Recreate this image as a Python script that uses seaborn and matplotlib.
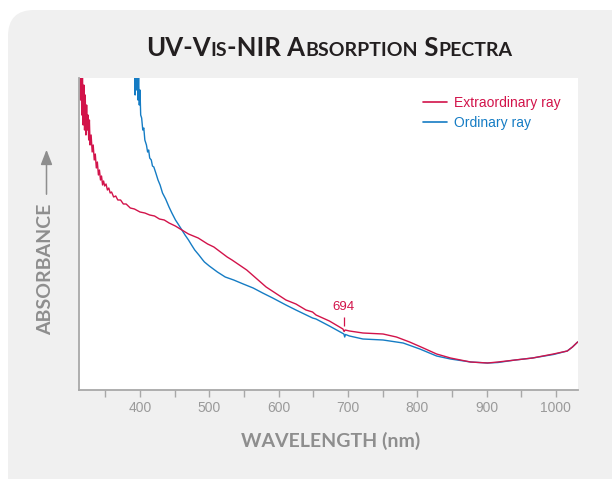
import matplotlib
matplotlib.use("Agg")
import matplotlib.pyplot as plt
from matplotlib.transforms import IdentityTransform
from matplotlib.patches import FancyBboxPatch, FancyArrowPatch
from matplotlib.lines import Line2D
import seaborn as sns
import pandas as pd

# ---------------- data ----------------
RED_NM = [313, 314, 315, 316, 317, 318, 319, 320, 321, 322, 323, 324, 325, 326, 327, 328,
          329.5, 331, 332.5, 334, 335.5, 337, 338.5, 340, 341.5, 343, 344.5, 346, 347.5, 349,
          351, 353, 355, 357, 359, 362, 365, 368, 372, 376, 380, 386, 392, 400, 407, 414,
          421, 428, 435, 442, 451, 460.5, 470, 484, 497.6, 506.6, 525.8, 532.8, 554, 582,
          610.6, 625, 639.5, 649, 654, 673.3, 692.8, 694.5, 696, 702.3, 721.7, 750.7, 770,
          789, 808.8, 828, 848, 877, 901.5, 916.5, 941.5, 966.5, 996.5, 1016.5, 1024, 1031.5]
RED_ABS = [3.4, 2.9, 3.3, 2.75, 3.2, 2.65, 3.05, 2.6, 2.95, 2.55, 2.85, 2.6, 2.75, 2.5, 2.7, 2.45,
           2.55, 2.38, 2.45, 2.3, 2.36, 2.22, 2.28, 2.15, 2.2, 2.1, 2.14, 2.05, 2.09, 2.04,
           2.06, 2.0, 2.02, 1.97, 1.98, 1.93, 1.94, 1.9, 1.9, 1.86, 1.86, 1.82, 1.81, 1.78, 1.77, 1.75,
           1.74, 1.71, 1.70, 1.67, 1.64, 1.60, 1.56, 1.52, 1.46, 1.43, 1.33, 1.30, 1.20, 1.03,
           0.90, 0.86, 0.80, 0.78, 0.75, 0.69, 0.61, 0.585, 0.60, 0.59, 0.57, 0.56, 0.53,
           0.48, 0.42, 0.36, 0.32, 0.28, 0.27, 0.28, 0.30, 0.32, 0.36, 0.39, 0.43, 0.48]

BLUE_NM = [392, 393, 394, 395, 396, 397, 398, 399, 400, 401, 402.4, 404, 405.5, 407, 409.3, 411,
           412.5, 414, 416.3, 418, 420, 423.3, 426, 429, 432.5, 437, 441.9, 446, 451.2, 455,
           460.5, 465, 470, 474.4, 479, 485, 490.6, 493, 500, 511.7, 523, 535.2, 549, 563.3,
           577, 591.5, 610.6, 625, 649, 654, 673.3, 694.2, 695.4, 696.5, 702.3, 721.7, 750.7,
           779.7, 803.8, 828, 848, 877, 901.5, 916.5, 941.5, 966.5, 996.5, 1016.5, 1024, 1031.5]
BLUE_ABS = [3.4, 2.95, 3.35, 3.0, 3.25, 2.9, 3.15, 2.85, 3.0, 2.75, 2.72, 2.6, 2.62, 2.5, 2.45, 2.38,
            2.40, 2.32, 2.30, 2.24, 2.23, 2.16, 2.10, 2.05, 1.97, 1.91, 1.83, 1.77, 1.70, 1.66,
            1.60, 1.55, 1.50, 1.45, 1.40, 1.35, 1.30, 1.28, 1.24, 1.18, 1.13, 1.10, 1.06, 1.02,
            0.97, 0.92, 0.85, 0.80, 0.72, 0.71, 0.64, 0.56, 0.53, 0.555, 0.54, 0.51, 0.50,
            0.47, 0.41, 0.34, 0.31, 0.28, 0.27, 0.275, 0.30, 0.32, 0.355, 0.39, 0.43, 0.48]

SERIES = ["Extraordinary ray", "Ordinary ray"]
X_TICKS = [400, 500, 600, 700, 800, 900, 1000]
X_MINOR = [350, 450, 550, 650, 750, 850, 950]
PEAK_NM = 694
PEAK_LABEL = "694"

RED = "#d2134a"
BLUE = "#157cc4"
GRAY = "#9a9a9a"

df = pd.concat([
    pd.DataFrame({"nm": RED_NM, "A": RED_ABS, "ray": SERIES[0]}),
    pd.DataFrame({"nm": BLUE_NM, "A": BLUE_ABS, "ray": SERIES[1]}),
])

sns.set_style("white")
plt.rcParams["font.family"] = ["Liberation Sans", "DejaVu Sans"]

W, H = 612, 479
fig = plt.figure(figsize=(W / 100, H / 100), dpi=100, facecolor="white")

# rounded grey panel
panel = FancyBboxPatch((8, -60), 700, H - 10 + 60, boxstyle="round,pad=0,rounding_size=26",
                       transform=IdentityTransform(), facecolor="#f0f0f0", edgecolor="none", zorder=-5)
fig.patches.append(panel)

L, R, T, B = 79, 578, 78, 390
ax = fig.add_axes([L / W, (H - B) / H, (R - L) / W, (B - T) / H])
ax.set_zorder(2)
ax.set_facecolor("white")

sns.lineplot(data=df, x="nm", y="A", hue="ray", hue_order=[SERIES[1], SERIES[0]],
             palette={SERIES[0]: RED, SERIES[1]: BLUE}, estimator=None, sort=False,
             linewidth=1.0, legend=False, ax=ax)

ax.set_xlim(312, 1032)
ax.set_ylim(0, 3.12)
ax.set_xticks(X_TICKS)
ax.set_xticks(X_MINOR, minor=True)
ax.set_yticks([])
ax.tick_params(axis="x", which="both", direction="out", length=5, width=1, color="#a8a8a8",
               labelcolor=GRAY, labelsize=10, pad=3, bottom=True)
ax.tick_params(axis="x", which="minor", labelbottom=False)
for s in ["top", "right"]:
    ax.spines[s].set_visible(False)
for s in ["left", "bottom"]:
    ax.spines[s].set_color("#a8a8a8")
    ax.spines[s].set_linewidth(1.3)
ax.set_xlabel("")
ax.set_ylabel("")

# 694 annotation
ax.text(PEAK_NM, 0.83, PEAK_LABEL, color=RED, fontsize=9.5, ha="center", va="center")
ax.vlines(PEAK_NM, 0.645, 0.735, color=RED, lw=0.9)

# legend
handles = [Line2D([], [], color=RED, lw=1.2), Line2D([], [], color=BLUE, lw=1.2)]
leg = ax.legend(handles, SERIES, loc="upper left", bbox_to_anchor=((423 - L) / (R - L), (B - 96) / (B - T)),
                frameon=False, fontsize=10, borderpad=0, handlelength=1.7, handletextpad=0.55,
                labelspacing=0.45, borderaxespad=0)
for txt, c in zip(leg.get_texts(), [RED, BLUE]):
    txt.set_color(c)

# title in small caps
renderer = fig.canvas.get_renderer()
pieces = [("UV-V", 18.5), ("IS", 14), ("-NIR A", 18.5), ("BSORPTION", 14), (" S", 18.5), ("PECTRA", 14)]
objs = []
for s, sz in pieces:
    t = fig.text(0, 0, s, fontsize=sz, fontweight="bold", family=["Lato", "DejaVu Sans"],
                 color="#231f20", transform=IdentityTransform(), ha="left", va="baseline")
    objs.append((t, t.get_window_extent(renderer).width))
total = sum(w for _, w in objs)
x0 = 329 - total / 2
for t, w in objs:
    t.set_position((x0, H - 56))
    x0 += w

# axis labels
fig.text(331, H - 447, "WAVELENGTH (nm)", fontsize=14, fontweight="bold", family=["Lato", "DejaVu Sans"],
         color="#8e8e8e", transform=IdentityTransform(), ha="center", va="baseline")
fig.text(46, H - 269, "ABSORBANCE", fontsize=14, fontweight="bold", family=["Lato", "DejaVu Sans"],
         color="#8e8e8e", transform=IdentityTransform(), ha="center", va="center", rotation=90)
arr = FancyArrowPatch((46.5, H - 197), (46.5, H - 147), transform=IdentityTransform(),
                      arrowstyle="-|>,head_length=9,head_width=3.5", mutation_scale=1,
                      color="#8e8e8e", lw=1.1)
fig.patches.append(arr)

fig.savefig("out.png", dpi=100, facecolor="white")
